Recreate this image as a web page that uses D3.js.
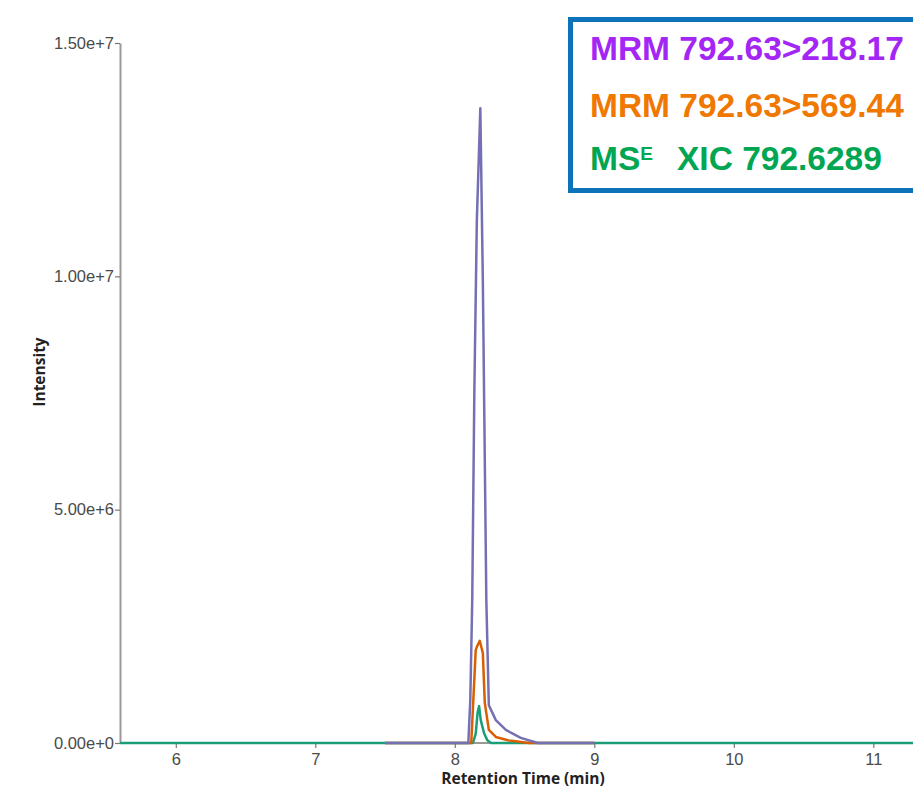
<!DOCTYPE html>
<html>
<head>
<meta charset="utf-8">
<script src="https://cdn.jsdelivr.net/npm/d3@7"></script>
<style>
  html, body { margin: 0; padding: 0; background: #fff; }
  svg { display: block; }
</style>
</head>
<body>
<div id="chart"></div>
<script>
// ---- Data ----
const seriesNames = ["MS^E XIC 792.6289", "MRM 792.63>569.44", "MRM 792.63>218.17"];

// MS^E XIC 792.6289 (green)
const xicTime      = [5.6, 8.13, 8.15, 8.163, 8.174, 8.186, 8.21, 8.233, 8.26, 11.4];
const xicIntensity = [0, 0, 0.2e6, 0.64e6, 0.79e6, 0.49e6, 0.21e6, 0.06e6, 0, 0];

// MRM 792.63>569.44 (orange)
const mrm569Time      = [7.5, 8.118, 8.150, 8.158, 8.179, 8.201, 8.215, 8.244, 8.294, 8.38, 8.53, 9.0];
const mrm569Intensity = [0, 0, 1.99e6, 2.06e6, 2.19e6, 1.93e6, 0.86e6, 0.28e6, 0.13e6, 0.06e6, 0, 0];

// MRM 792.63>218.17 (purple)
const mrm218Time      = [7.5, 8.097, 8.111, 8.125, 8.140, 8.158, 8.183, 8.201, 8.226, 8.244, 8.294, 8.366, 8.473, 8.595, 9.0];
const mrm218Intensity = [0, 0, 0.92e6, 3.06e6, 7.5e6, 11.2e6, 13.6e6, 9.9e6, 3.06e6, 0.81e6, 0.49e6, 0.28e6, 0.11e6, 0, 0];

const xTickValues = [6, 7, 8, 9, 10, 11];
const yTickValues = [0, 5e6, 1e7, 1.5e7];

const legendLabels = ["MRM 792.63>218.17", "MRM 792.63>569.44", "XIC 792.6289"];

// ---- Layout ----
const W = 913, H = 788;
const x0 = 120, yBottom = 743, yTop = 43;

const svg = d3.select("#chart").append("svg")
  .attr("width", W).attr("height", H);

const x = d3.scaleLinear().domain([5.6, 11.3]).range([x0, x0 + 5.7 * 139.5]);
const y = d3.scaleLinear().domain([0, 1.5e7]).range([yBottom, yTop]);

// Axes
const xAxis = d3.axisBottom(x).tickValues(xTickValues).tickSize(5).tickSizeOuter(0).tickFormat(d3.format("d"));
const yAxis = d3.axisLeft(y).tickValues(yTickValues).tickSize(5).tickSizeOuter(0).tickFormat(d3.format(".2e"));

const gx = svg.append("g").attr("transform", `translate(0,${yBottom})`).call(xAxis);
const gy = svg.append("g").attr("transform", `translate(${x0},0)`).call(yAxis);

[gx, gy].forEach(g => {
  g.attr("font-size", null);
  g.select(".domain").attr("stroke", "#999").attr("stroke-width", 2);
  g.selectAll(".tick line").attr("stroke", "#777").attr("stroke-width", 1.2);
  g.selectAll(".tick text")
    .attr("fill", "#4a4a4a")
    .attr("font-size", 16.5)
    .style("font-family", "'Liberation Sans', Arial, sans-serif")
    .style("font-size", "16.5px");
});
gx.select(".domain").attr("d", `M${x0},0H${W}`);
gx.selectAll(".tick text").attr("dy", "0.95em").attr("y", 6);
gy.selectAll(".tick text").attr("x", -6);

// Series lines
const line = d3.line().x(d => x(d[0])).y(d => y(d[1]));
const series = [
  { t: xicTime,    v: xicIntensity,    color: "#1b9e77" },
  { t: mrm569Time, v: mrm569Intensity, color: "#d95f02" },
  { t: mrm218Time, v: mrm218Intensity, color: "#7570b3" }
];
series.forEach(s => {
  const pts = s.t.map((t, i) => [t, s.v[i]]);
  svg.append("path").datum(pts)
    .attr("fill", "none")
    .attr("stroke", s.color)
    .attr("stroke-width", 2.5)
    .attr("stroke-linejoin", "round")
    .attr("d", line);
});

// Axis titles
svg.append("text")
  .attr("x", 523).attr("y", 784)
  .attr("text-anchor", "middle")
  .style("font-family", "'Open Sans', sans-serif")
  .style("font-weight", "700")
  .style("font-size", "15.5px")
  .attr("fill", "#222")
  .text("Retention Time (min)");

svg.append("text")
  .attr("transform", "translate(45,372) rotate(-90)")
  .attr("text-anchor", "middle")
  .style("font-family", "'Open Sans', sans-serif")
  .style("font-weight", "700")
  .style("font-size", "15.5px")
  .attr("fill", "#222")
  .text("Intensity");

// Legend box
const lg = svg.append("g");
lg.append("rect")
  .attr("x", 570.5).attr("y", 19.5)
  .attr("width", 400).attr("height", 171)
  .attr("fill", "#fff")
  .attr("stroke", "#0e72b8")
  .attr("stroke-width", 5);

const lf = "'Liberation Sans', Arial, sans-serif";
lg.append("text").attr("x", 590).attr("y", 60)
  .style("font-family", lf).style("font-weight", "700").style("font-size", "33.5px")
  .attr("fill", "#a326f5").text(legendLabels[0]);
lg.append("text").attr("x", 590).attr("y", 117)
  .style("font-family", lf).style("font-weight", "700").style("font-size", "33.5px")
  .attr("fill", "#f07800").text(legendLabels[1]);
const t3 = lg.append("text").attr("x", 590).attr("y", 170)
  .style("font-family", lf).style("font-weight", "700").style("font-size", "33.5px")
  .attr("fill", "#00a651");
t3.append("tspan").text("MS");
t3.append("tspan").attr("dy", -10).style("font-size", "19px").text("E");
t3.append("tspan").attr("x", 677).attr("y", 170).text(legendLabels[2]);
</script>
</body>
</html>
